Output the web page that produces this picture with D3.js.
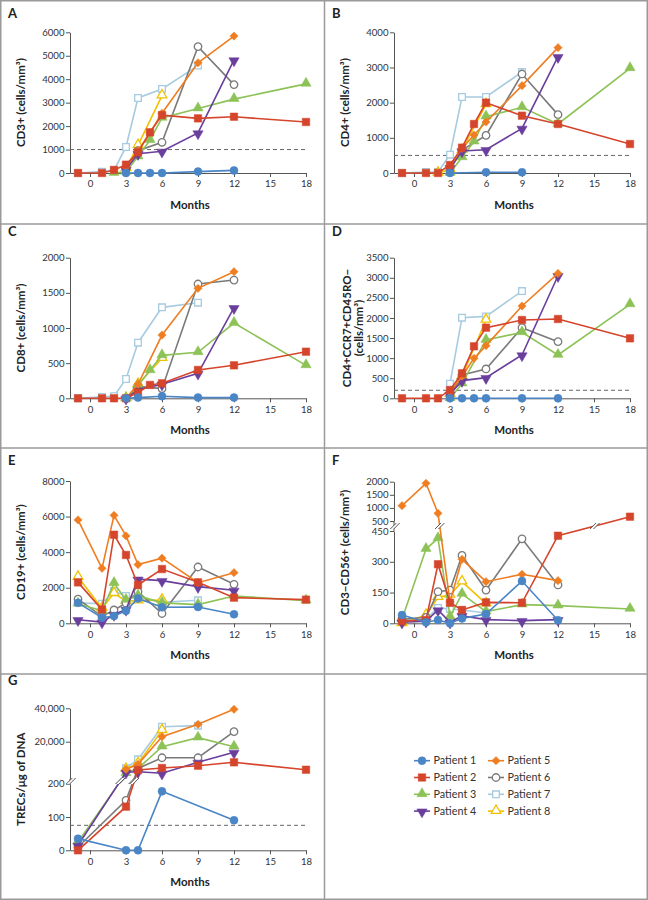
<!DOCTYPE html>
<html><head><meta charset="utf-8">
<script src="https://cdn.jsdelivr.net/npm/d3@7"></script>
<style>body{margin:0;background:#fff}svg{display:block}text{font-family:Lato,"Open Sans",sans-serif}</style>
</head><body><svg id="c" width="648" height="900"></svg>
<script>
// ---------------- DATA ----------------
const months = [-1, 1, 2, 3, 4, 5, 6, 9, 12, 18];
const monthTicks = [0, 3, 6, 9, 12, 15, 18];
const patientNames = ["Patient 1","Patient 2","Patient 3","Patient 4","Patient 5","Patient 6","Patient 7","Patient 8"];
const _ = null;

// CD3+ (cells/mm3), rows = patients 1..8, columns = months
const cd3 = [
  [_, _, _, 0, 0, 0, 0, 60, 110, _],
  [0, 0, 130, 355, 880, 1735, 2470, 2330, 2400, 2175],
  [_, _, 0, 50, 700, 1400, 2350, 2750, 3150, 3800],
  [_, _, _, 150, 825, _, 925, 1707, 4820, _],
  [_, _, _, 250, 950, 1720, 2546, 4700, 5840, _],
  [_, _, _, 200, 950, _, 1310, 5390, 3770, _],
  [0, 60, 120, 1110, 3200, _, 3585, 4580, _, _],
  [_, _, _, 200, 1180, _, 3300, _, _, _]
];
const cd3Ticks = [0, 1000, 2000, 3000, 4000, 5000, 6000];

const cd4 = [
  [_, _, _, 0, _, _, 20, 20, _, _],
  [0, 0, 0, 227, 720, 1393, 2000, 1630, 1393, 825],
  [_, _, _, 0, 445, 891, 1602, 1867, 1393, 2976],
  [_, _, _, 150, 625, _, 663, 1270, 3308, _],
  [_, _, _, 200, 700, 1080, 1450, 2483, 3564, _],
  [_, _, _, 100, 650, _, 1071, 2815, 1659, _],
  [0, 30, 30, 521, 2161, _, 2161, 2872, _, _],
  [_, _, 0, 100, 650, _, 1950, _, _, _]
];
const cd4Ticks = [0, 1000, 2000, 3000, 4000];

const cd8 = [
  [_, _, _, 0, 10, _, 30, 10, 10, _],
  [0, 0, 0, 0, 81, 190, 213, 403, 469, 663],
  [_, _, _, 0, 180, 398, 611, 654, 1071, 469],
  [_, _, _, 0, 120, _, 200, 355, 1289, _],
  [_, _, _, 0, 200, _, 900, 1564, 1801, _],
  [_, _, _, 0, 170, _, 137, 1626, 1682, _],
  [0, 20, 30, 275, 791, _, 1294, 1360, _, _],
  [_, _, _, 0, 200, _, 569, _, _, _]
];
const cd8Ticks = [0, 500, 1000, 1500, 2000];

const naiveCd4 = [
  [_, _, _, 0, 0, 0, 0, 0, 0, _],
  [0, 0, 0, 207, 622, 1294, 1758, 1949, 1974, 1493],
  [_, _, _, 0, 365, _, 1451, 1642, 1078, 2338],
  [_, _, _, 100, 440, _, 514, 1078, 3051, _],
  [_, _, _, 150, 550, 995, 1310, 2297, 3109, _],
  [_, _, _, 50, 580, _, 730, 1758, 1410, _],
  [_, _, _, 365, 2007, _, 2040, 2670, _, _],
  [_, _, _, 100, 550, _, 1950, _, _, _]
];
const naiveTicks = [0, 500, 1000, 1500, 2000, 2500, 3000, 3500];

const cd19 = [
  [1150, 315, 410, 700, 1400, _, 899, 918, 506, _],
  [2300, 770, 4980, 3840, 2153, _, 3050, 2304, 1442, 1330],
  [1100, 700, 2260, 1310, 1555, _, 1150, 1049, 1536, 1274],
  [200, 70, 490, 780, 2480, _, 2400, 2061, 1855, _],
  [5810, 3091, 6070, 4915, 3300, _, 3660, 2285, 2847, _],
  [1360, 390, 749, 1130, 1778, _, 550, 3166, 2192, _],
  [1150, 1100, 1800, 1536, 1450, _, 1180, 1293, _, _],
  [2600, 850, 1686, 1250, 1274, _, 1310, _, _, _]
];
const cd19Ticks = [0, 2000, 4000, 6000, 8000];

const nk = [
  [40, 5, 16, 0, 24, _, 45, 206, 15, _],
  [11, 16, 288, 100, 65, _, 102, 100, 427, 664],
  [20, 362, 414, 32, 143, _, 57, 91, 86, 70],
  [5, 10, 65, 5, 37, _, 18, 13, 18, _],
  [1084, 1939, 794, 105, 312, _, 203, 239, 208, _],
  [20, 29, 154, 162, 331, _, 162, 412, 187, _],
  [15, 20, 75, 70, 65, _, 50, _, _, _],
  [0, 40, 127, 138, 203, _, 96, _, _, _]
];
const nkTicksLow = [0, 150, 300, 450];
const nkTicksHigh = [500, 1000, 1500, 2000];

const trec = [
  [35, _, _, 0, 0, _, 177, _, 90, _],
  [0, _, _, 131, 3050, _, 4250, 5630, 7660, 3230],
  [25, _, _, 1080, 4000, _, 17000, 22400, 17000, _],
  [15, _, _, 1700, 2000, _, 1100, 7660, 13650, _],
  [_, _, _, 3500, 6470, _, 23000, 30400, 39400, _],
  [10, _, _, 150, 4000, _, 10400, 10400, 26000, _],
  [_, _, _, 4070, 9460, _, 29000, 29600, _, _],
  [_, _, _, 3500, 7000, _, 26800, _, _, _]
];
const trecTicksLow = [0, 100, 200];
const trecTicksHigh = [20000, 40000];

// ---------------- STYLE ----------------
const colors = ["#4a85c6","#d5452b","#8dc257","#6a3e9c","#ef7e22","#7a7a7a","#a7cbe0","#f1c000"];
const shapes = ["circle","square","triangle","triDown","diamond","circle","square","triangle"];
const openMarker = [false,false,false,false,false,true,true,true];
const drawOrder = [6, 7, 5, 2, 3, 4, 1, 0];

const svg = d3.select("#c");
svg.append("rect").attr("width",648).attr("height",900).attr("fill","#fff");

const tickFont = 9.6, titleFont = 11.5;

const panels = [
  {id:"A", data:cd3, col:0, top:32.3, bot:173, max:6000, ticks:cd3Ticks, dashed:1000, label:["CD3+ (cells/mm³)"], letterY:18},
  {id:"B", data:cd4, col:1, top:32.3, bot:173, max:4000, ticks:cd4Ticks, dashed:500, label:["CD4+ (cells/mm³)"], letterY:18},
  {id:"C", data:cd8, col:0, top:257.7, bot:398.3, max:2000, ticks:cd8Ticks, label:["CD8+ (cells/mm³)"], letterY:236},
  {id:"D", data:naiveCd4, col:1, top:257.7, bot:398.3, max:3500, ticks:naiveTicks, dashed:200, label:["CD4+CCR7+CD45RO−","(cells/mm³)"], letterY:236},
  {id:"E", data:cd19, col:0, top:481, bot:623.3, max:8000, ticks:cd19Ticks, label:["CD19+ (cells/mm³)"], letterY:465},
  {id:"F", data:nk, col:1, top:481.7, bot:623.3, broken:true, loDomain:[0,450], loTop:531, hiDomain:[500,2000], hiBot:521,
     loTicks:nkTicksLow, hiTicks:nkTicksHigh, threshold:475, breakY:526, label:["CD3−CD56+ (cells/mm³)"], letterY:465},
  {id:"G", data:trec, col:0, top:708.3, bot:850.3, broken:true, loDomain:[0,200], loTop:783.7, hiDomain:[-2150,40000], hiBot:778.7,
     loTicks:trecTicksLow, hiTicks:trecTicksHigh, threshold:200, breakY:781, dashed:75, fmt:d3.format(","), label:["TRECs/μg of DNA"], letterY:685}
];

function symbolPath(shape, open) {
  let type, size;
  if (shape === "circle") { type = d3.symbolCircle; size = open ? 44 : 50; }
  else if (shape === "square") { type = d3.symbolSquare; size = open ? 44 : 56; }
  else if (shape === "diamond") { type = d3.symbolSquare; size = 34; }
  else { type = d3.symbolTriangle; size = open ? 40 : 46; }
  return d3.symbol().type(type).size(size)();
}
function markerTransform(shape, x, y) {
  if (shape === "diamond") return `translate(${x},${y}) rotate(45)`;
  if (shape === "triDown") return `translate(${x},${y+0.8}) rotate(180)`;
  if (shape === "triangle") return `translate(${x},${y-0.6})`;
  return `translate(${x},${y})`;
}
function breakMark(g, cx, cy) {
  const d = 3, o = 1.7;
  g.append("polygon")
    .attr("points", `${cx-d-o},${cy+d} ${cx+d-o},${cy-d} ${cx+d+o},${cy-d} ${cx-d+o},${cy+d}`)
    .attr("fill", "#fff");
  [-o, o].forEach(off => {
    g.append("line").attr("x1", cx-d+off).attr("y1", cy+d).attr("x2", cx+d+off).attr("y2", cy-d)
      .attr("stroke", "#444").attr("stroke-width", 0.9);
  });
}
function styleAxis(ax) {
  ax.attr("font-family", null).attr("font-size", null);
  ax.select(".domain").attr("stroke", "#555").attr("stroke-width", 1);
  ax.selectAll(".tick line").attr("stroke", "#555").attr("stroke-width", 1);
  ax.selectAll(".tick text").attr("fill", "#333").style("font-size", tickFont + "px");
}

panels.forEach(p => {
  const x0 = p.col * 324;
  const g = svg.append("g");
  const x = d3.scaleLinear().domain([-1.667, 18]).range([x0 + 70, x0 + 306]);
  let yf, axes = [];
  if (!p.broken) {
    const s = d3.scaleLinear().domain([0, p.max]).range([p.bot, p.top]);
    yf = v => s(v);
    axes.push({scale: s, ticks: p.ticks});
  } else {
    const lo = d3.scaleLinear().domain(p.loDomain).range([p.bot, p.loTop]);
    const hi = d3.scaleLinear().domain(p.hiDomain).range([p.hiBot, p.top]);
    yf = v => v > p.threshold ? hi(v) : lo(v);
    axes.push({scale: lo, ticks: p.loTicks});
    axes.push({scale: hi, ticks: p.hiTicks});
  }
  axes.forEach(a => {
    const ax = g.append("g").attr("transform", `translate(${x0 + 70},0)`)
      .call(d3.axisLeft(a.scale).tickValues(a.ticks).tickSize(4).tickSizeOuter(0).tickPadding(1.5)
        .tickFormat(p.fmt || d3.format("d")));
    styleAxis(ax);
  });
  if (p.broken) {
    g.append("line").attr("x1", x0+70).attr("x2", x0+70).attr("y1", p.loTop).attr("y2", p.hiBot)
      .attr("stroke", "#555");
    breakMark(g, x0 + 71, p.breakY);
  }
  const xa = g.append("g").attr("transform", `translate(0,${p.bot})`)
    .call(d3.axisBottom(x).tickValues(monthTicks).tickSize(4).tickSizeOuter(0).tickPadding(3.5));
  styleAxis(xa);
  if (p.dashed !== undefined) {
    g.append("line").attr("x1", x(-1.667)).attr("x2", x(18)).attr("y1", yf(p.dashed)).attr("y2", yf(p.dashed))
      .attr("stroke", "#666").attr("stroke-width", 1).attr("stroke-dasharray", "4,3");
  }
  g.append("text").attr("x", x0 + 190).attr("y", p.bot + 35.5).attr("text-anchor", "middle")
    .attr("font-weight", "bold").attr("font-size", titleFont).attr("fill", "#222").text("Months");
  const mid = (p.top + p.bot) / 2;
  const nl = p.label.length;
  p.label.forEach((t, i) => {
    const cx = nl === 1 ? x0 + 21 : x0 + 23 + i * 12;
    g.append("text").attr("transform", `translate(${cx},${mid}) rotate(-90)`)
      .attr("text-anchor", "middle").attr("dy", "0.35em")
      .attr("font-weight", "bold").attr("font-size", titleFont).attr("fill", "#222").text(t);
  });
  g.append("text").attr("x", x0 + 8).attr("y", p.letterY).attr("font-weight", "bold")
    .attr("font-size", 13).attr("fill", "#222").text(p.id);

  const crossings = [];
  drawOrder.forEach(i => {
    const pts = months.map((m, j) => ({m, v: p.data[i][j]})).filter(d => d.v !== null);
    g.append("path").datum(pts)
      .attr("d", d3.line().x(d => x(d.m)).y(d => yf(d.v)))
      .attr("fill", "none").attr("stroke", colors[i]).attr("stroke-width", 1.6);
    if (p.broken) {
      for (let k = 1; k < pts.length; k++) {
        const a = pts[k-1], b = pts[k];
        if ((a.v > p.threshold) !== (b.v > p.threshold)) {
          const xa1 = x(a.m), ya1 = yf(a.v), xb = x(b.m), yb = yf(b.v);
          const t = (p.breakY - ya1) / (yb - ya1);
          crossings.push([xa1 + t * (xb - xa1), p.breakY]);
        }
      }
    }
    g.selectAll(null).data(pts).enter().append("path")
      .attr("d", symbolPath(shapes[i], openMarker[i]))
      .attr("transform", d => markerTransform(shapes[i], x(d.m), yf(d.v)))
      .attr("fill", openMarker[i] ? "#fff" : colors[i])
      .attr("stroke", colors[i]).attr("stroke-width", openMarker[i] ? 1.3 : 0.5);
  });
  crossings.forEach(c => breakMark(g, c[0], c[1]));
});

const lg = svg.append("g");
patientNames.forEach((name, i) => {
  const col = i < 4 ? 0 : 1, row = i % 4;
  const lx = col ? 488 : 414, ly = 760.7 + row * 16.8;
  lg.append("line").attr("x1", lx).attr("x2", lx + 16).attr("y1", ly).attr("y2", ly)
    .attr("stroke", colors[i]).attr("stroke-width", 1.6);
  lg.append("path").attr("d", symbolPath(shapes[i], openMarker[i]))
    .attr("transform", markerTransform(shapes[i], lx + 8, ly))
    .attr("fill", openMarker[i] ? "#fff" : colors[i])
    .attr("stroke", colors[i]).attr("stroke-width", openMarker[i] ? 1.3 : 0.5);
  lg.append("text").attr("x", lx + 19.5).attr("y", ly).attr("dy", "0.35em")
    .attr("font-size", 10.8).attr("fill", "#333").text(name);
});

const fr = svg.append("g").attr("stroke", "#9a9a9a").attr("stroke-width", 1.5).attr("fill", "none");
fr.append("rect").attr("x", 0.75).attr("y", 0.75).attr("width", 646.5).attr("height", 898.5);
fr.append("line").attr("x1", 324.5).attr("x2", 324.5).attr("y1", 0).attr("y2", 900);
[224, 448, 674].forEach(y => fr.append("line").attr("x1", 0).attr("x2", 648).attr("y1", y).attr("y2", y));
</script></body></html>
